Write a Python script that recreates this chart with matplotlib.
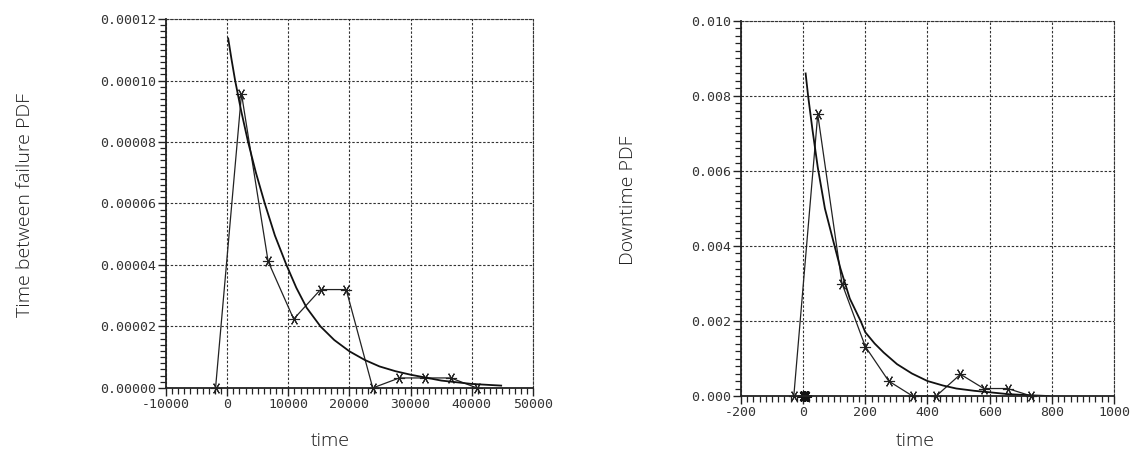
import matplotlib
matplotlib.use('Agg')
import matplotlib.pyplot as plt
from matplotlib.ticker import MultipleLocator, FormatStrFormatter

plt.rcParams['axes.unicode_minus'] = False

# --- time between failure (left) ---
tbf_bins = [-1900, 2340, 6690, 10870, 15270, 19460, 23800, 28150, 32340, 36580, 40820]
tbf_hist = [0.0, 9.57e-5, 4.12e-5, 2.24e-5, 3.2e-5, 3.2e-5, 0.0, 3.25e-6, 3.25e-6, 3.25e-6, 0.0]
tbf_fit_x = [163, 700, 1300, 2300, 3420, 4700, 6150, 7800, 9690, 11300, 12990, 15260,
             17500, 20000, 22500, 24900, 27500, 30000, 35000, 40000, 44800]
tbf_fit_y = [1.137e-4, 1.07e-4, 1.0e-4, 9.0e-5, 8.0e-5, 7.0e-5, 6.0e-5, 4.96e-5, 4.0e-5, 3.26e-5,
             2.61e-5, 2.0e-5, 1.56e-5, 1.19e-5, 9.1e-6, 7.0e-6, 5.45e-6, 4.3e-6, 2.4e-6, 1.3e-6, 7.6e-7]

# --- downtime (right) ---
dt_bins = [-30, 47, 125, 200, 275, 352, 428, 506, 581, 658, 734]
dt_hist = [0.0, 0.00751, 0.0030, 0.00132, 0.0004, 0.0, 0.0, 0.00058, 0.0002, 0.0002, 0.0]
dt_zero_x = [0, 5, 10]
dt_zero_y = [0.0, 0.0, 0.0]
dt_fit_x = [8, 16, 30, 47, 70, 98, 120, 150, 185, 200, 230, 259, 302, 350, 400, 450,
            493, 550, 600, 660, 731, 790]
dt_fit_y = [0.0086, 0.0080, 0.0071, 0.0061, 0.0050, 0.0041, 0.0034, 0.0026, 0.0020, 0.0017,
            0.0014, 0.00116, 0.00085, 0.0006, 0.0004, 0.00028, 0.0002, 0.00014, 0.0001,
            0.00005, 0.00002, 0.0]

fig = plt.figure(figsize=(11.34, 4.76), dpi=100)
ax1 = fig.add_axes([0.1464, 0.185, 0.3236, 0.775])
ax2 = fig.add_axes([0.6534, 0.168, 0.329, 0.788])

star = (6, 2, 90)
dash = (0, (2.2, 1.6))


def style(ax, xmaj, xmin_, ymaj, ymin_, fmt):
    ax.xaxis.set_major_locator(MultipleLocator(xmaj))
    ax.xaxis.set_minor_locator(MultipleLocator(xmin_))
    ax.yaxis.set_major_locator(MultipleLocator(ymaj))
    ax.yaxis.set_minor_locator(MultipleLocator(ymin_))
    ax.yaxis.set_major_formatter(FormatStrFormatter(fmt))
    # top/right edges look like grid lines
    for s in ('top', 'right'):
        ax.spines[s].set_linestyle(dash)
        ax.spines[s].set_linewidth(0.8)
        ax.spines[s].set_color('#333333')
    for s in ('left', 'bottom'):
        ax.spines[s].set_linewidth(1.3)
        ax.spines[s].set_color('#222222')
    ax.grid(True, which='major', color='#333333', linestyle=dash, linewidth=0.8)
    ax.tick_params(which='major', length=6, width=1, direction='out', pad=1, color='#222222')
    ax.tick_params(which='minor', length=4, width=0.9, direction='out', color='#222222')
    for lab in ax.get_xticklabels() + ax.get_yticklabels():
        lab.set_fontfamily('DejaVu Sans Mono')
        lab.set_fontsize(9.5)
        lab.set_color('#333333')


# left panel
ax1.plot(tbf_bins, tbf_hist, color='#222222', linewidth=0.9,
         marker=star, markersize=8, markeredgewidth=0.8, clip_on=False)
ax1.plot(tbf_fit_x, tbf_fit_y, color='#111111', linewidth=1.3)
ax1.set_xlim(-10000, 50000)
ax1.set_ylim(0, 0.00012)
style(ax1, 10000, 1000, 0.00002, 0.000002, '%.5f')

# right panel
ax2.plot(dt_bins, dt_hist, color='#222222', linewidth=0.9,
         marker=star, markersize=8, markeredgewidth=0.8, clip_on=False)
ax2.plot(dt_zero_x, dt_zero_y, linestyle='none', color='#111111',
         marker=star, markersize=8, markeredgewidth=1.6, clip_on=False)
ax2.plot(dt_fit_x, dt_fit_y, color='#111111', linewidth=1.3)
ax2.set_xlim(-200, 1000)
ax2.set_ylim(0, 0.010)
style(ax2, 200, 20, 0.002, 0.0002, '%.3f')

lab = dict(fontsize=14, family='Open Sans', fontweight='light', color='#1e1e1e',
           ha='center', va='center')
fig.text(330 / 1134, 1 - 441 / 476, 'time', **lab)
fig.text(915 / 1134, 1 - 441 / 476, 'time', **lab)
fig.text(25 / 1134, 1 - 205 / 476, 'Time between failure PDF', rotation=90, **lab)
fig.text(628 / 1134, 1 - 200 / 476, 'Downtime PDF', rotation=90, **lab)

fig.savefig('out.png', dpi=100)
